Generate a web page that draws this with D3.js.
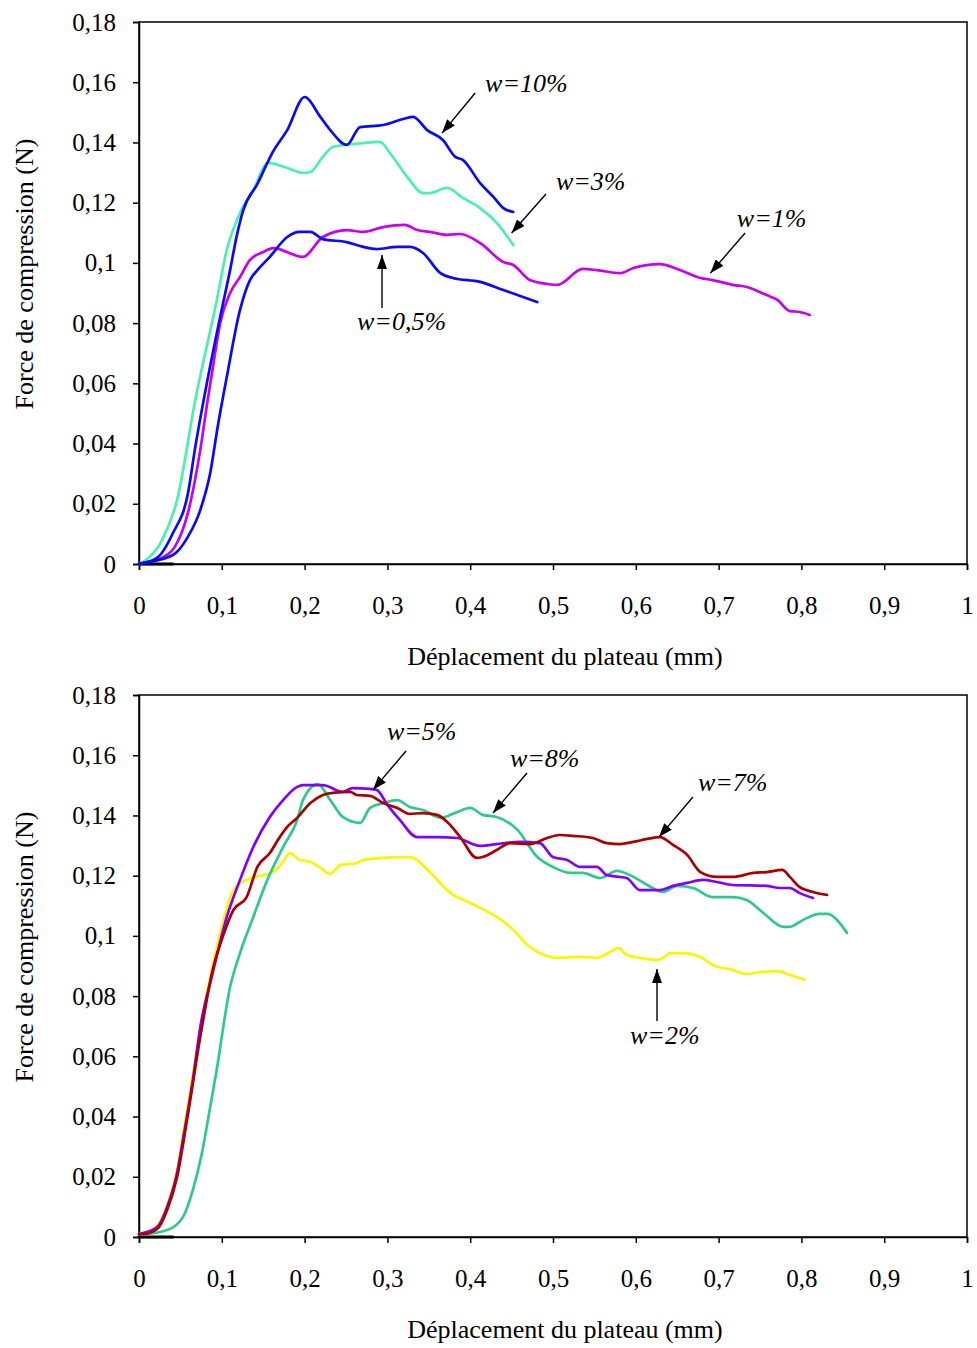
<!DOCTYPE html>
<html><head><meta charset="utf-8">
<script src="https://cdn.jsdelivr.net/npm/d3@7"></script>
<style>
body{margin:0;background:#fff}
svg{display:block}
text{font-family:"Liberation Serif","Times New Roman",serif;fill:#000}
</style>
</head><body>
<svg id="chart" width="977" height="1348"></svg>
<script>
// ---------- axis data ----------
const xTicks = [0,0.1,0.2,0.3,0.4,0.5,0.6,0.7,0.8,0.9,1];
const xTickLabels = ["0","0,1","0,2","0,3","0,4","0,5","0,6","0,7","0,8","0,9","1"];
const yTicks = [0,0.02,0.04,0.06,0.08,0.1,0.12,0.14,0.16,0.18];
const yTickLabels = ["0","0,02","0,04","0,06","0,08","0,1","0,12","0,14","0,16","0,18"];
const xTitle = "Déplacement du plateau (mm)";
const yTitle = "Force de compression (N)";

// ---------- top chart series [displacement mm, force N] ----------
const w10 = [[0,0],[0.005,0.0003],[0.023,0.0023],[0.041,0.0103],[0.059,0.0233],[0.068,0.0389],[0.082,0.0601],[0.098,0.082],[0.110,0.0976],[0.118,0.1089],[0.126,0.1176],[0.143,0.1262],[0.155,0.1332],[0.161,0.1365],[0.179,0.1441],[0.200,0.1551],[0.219,0.1485],[0.231,0.1441],[0.251,0.1392],[0.267,0.1451],[0.295,0.1458],[0.319,0.1478],[0.331,0.1485],[0.348,0.1441],[0.367,0.1408],[0.382,0.1352],[0.391,0.1342],[0.412,0.1265],[0.428,0.1219],[0.440,0.1182],[0.452,0.1169]];
const w3 = [[0,0],[0.005,0.0007],[0.028,0.008],[0.046,0.0213],[0.068,0.0545],[0.094,0.0877],[0.106,0.1043],[0.122,0.1166],[0.138,0.1242],[0.156,0.1332],[0.179,0.1315],[0.198,0.1299],[0.207,0.1302],[0.222,0.1352],[0.234,0.1385],[0.271,0.1398],[0.291,0.1402],[0.303,0.1365],[0.324,0.1285],[0.343,0.1232],[0.351,0.1232],[0.372,0.1249],[0.391,0.1216],[0.412,0.1182],[0.432,0.1133],[0.452,0.1059]];
const w1 = [[0,0],[0.005,0.0003],[0.029,0.0023],[0.043,0.0056],[0.059,0.0169],[0.074,0.0379],[0.083,0.0545],[0.088,0.0631],[0.098,0.08],[0.110,0.09],[0.122,0.0953],[0.134,0.101],[0.150,0.1036],[0.162,0.1049],[0.198,0.102],[0.222,0.1086],[0.251,0.1109],[0.271,0.1103],[0.295,0.1119],[0.321,0.1126],[0.336,0.1109],[0.351,0.1103],[0.372,0.1093],[0.388,0.1096],[0.412,0.1066],[0.440,0.1003],[0.452,0.0993],[0.472,0.0943],[0.493,0.093],[0.505,0.0927],[0.536,0.098],[0.553,0.0976],[0.581,0.0966],[0.597,0.0983],[0.629,0.0996],[0.650,0.098],[0.678,0.095],[0.693,0.0943],[0.717,0.0927],[0.734,0.092],[0.758,0.0893],[0.771,0.0877],[0.786,0.084],[0.798,0.0837],[0.810,0.0827]];
const w05 = [[0,0],[0.005,0.0003],[0.041,0.003],[0.059,0.009],[0.074,0.0179],[0.086,0.0302],[0.095,0.0455],[0.106,0.0621],[0.122,0.0844],[0.134,0.0943],[0.143,0.0976],[0.158,0.102],[0.179,0.1086],[0.194,0.1103],[0.207,0.1103],[0.222,0.1079],[0.251,0.1069],[0.271,0.1053],[0.287,0.1046],[0.312,0.1053],[0.327,0.1053],[0.343,0.1033],[0.364,0.0966],[0.379,0.095],[0.412,0.0937],[0.440,0.091],[0.481,0.087]];
const baseTop = [[0,0],[0.041,0]];

// ---------- bottom chart series ----------
const w5 = [[0,0.001],[0.005,0.0013],[0.022,0.0033],[0.034,0.01],[0.046,0.0213],[0.053,0.0322],[0.065,0.0521],[0.074,0.0697],[0.089,0.0877],[0.106,0.1063],[0.122,0.1186],[0.138,0.1295],[0.158,0.1395],[0.174,0.1451],[0.191,0.1495],[0.198,0.1501],[0.222,0.1501],[0.246,0.1478],[0.258,0.1491],[0.279,0.1488],[0.287,0.1485],[0.300,0.1435],[0.315,0.1385],[0.336,0.1328],[0.360,0.1328],[0.384,0.1325],[0.412,0.1299],[0.432,0.1305],[0.460,0.1312],[0.484,0.1308],[0.500,0.1262],[0.517,0.1252],[0.533,0.1229],[0.553,0.1229],[0.565,0.1202],[0.589,0.1192],[0.605,0.1152],[0.629,0.1152],[0.645,0.1166],[0.662,0.1176],[0.681,0.1186],[0.698,0.1179],[0.717,0.1169],[0.758,0.1166],[0.774,0.1159],[0.786,0.1159],[0.798,0.1142],[0.814,0.1126]];
const w7 = [[0,0.001],[0.005,0.001],[0.022,0.0027],[0.034,0.009],[0.046,0.0199],[0.058,0.0389],[0.076,0.0697],[0.089,0.0887],[0.101,0.0996],[0.114,0.1086],[0.130,0.1129],[0.143,0.1229],[0.158,0.1275],[0.170,0.1328],[0.179,0.1362],[0.191,0.1392],[0.207,0.1441],[0.222,0.1468],[0.234,0.1475],[0.255,0.1478],[0.263,0.1468],[0.279,0.1465],[0.295,0.1441],[0.312,0.1425],[0.327,0.1405],[0.343,0.1408],[0.360,0.1402],[0.376,0.1368],[0.388,0.1328],[0.408,0.1259],[0.415,0.1262],[0.432,0.1285],[0.448,0.1308],[0.472,0.1305],[0.493,0.1325],[0.508,0.1335],[0.524,0.1332],[0.548,0.1325],[0.565,0.1308],[0.581,0.1305],[0.597,0.1312],[0.614,0.1322],[0.629,0.1328],[0.645,0.1302],[0.662,0.1269],[0.678,0.1212],[0.698,0.1196],[0.717,0.1196],[0.742,0.1209],[0.758,0.1212],[0.777,0.1219],[0.786,0.1196],[0.798,0.1162],[0.814,0.1146],[0.831,0.1136]];
const w8 = [[0,0.001],[0.005,0.001],[0.034,0.0023],[0.053,0.0066],[0.065,0.0156],[0.076,0.0279],[0.086,0.0432],[0.093,0.0541],[0.110,0.083],[0.122,0.0943],[0.138,0.1063],[0.155,0.1186],[0.174,0.1295],[0.191,0.1385],[0.198,0.1451],[0.216,0.1504],[0.231,0.1451],[0.246,0.1395],[0.267,0.1375],[0.279,0.1425],[0.295,0.1441],[0.312,0.1451],[0.327,0.1428],[0.343,0.1418],[0.364,0.1392],[0.384,0.1411],[0.400,0.1425],[0.415,0.1402],[0.432,0.1395],[0.457,0.1352],[0.481,0.1262],[0.500,0.1229],[0.521,0.1209],[0.536,0.1209],[0.557,0.1192],[0.577,0.1216],[0.597,0.1196],[0.614,0.1169],[0.633,0.1146],[0.650,0.1166],[0.669,0.1159],[0.693,0.1129],[0.717,0.1129],[0.734,0.1119],[0.754,0.1076],[0.778,0.103],[0.786,0.103],[0.802,0.1053],[0.822,0.1073],[0.832,0.1073],[0.843,0.1053],[0.855,0.101]];
const w2 = [[0,0.001],[0.005,0.0013],[0.022,0.0037],[0.034,0.0106],[0.046,0.0223],[0.053,0.0339],[0.065,0.0538],[0.082,0.081],[0.094,0.0963],[0.114,0.1152],[0.130,0.1186],[0.150,0.1202],[0.162,0.1212],[0.174,0.1246],[0.182,0.1275],[0.194,0.1252],[0.207,0.1246],[0.219,0.1226],[0.231,0.1206],[0.243,0.1235],[0.263,0.1242],[0.271,0.1252],[0.295,0.1259],[0.324,0.1262],[0.331,0.1259],[0.351,0.1212],[0.376,0.1143],[0.400,0.1109],[0.412,0.1093],[0.432,0.1063],[0.452,0.102],[0.469,0.097],[0.484,0.0943],[0.505,0.0927],[0.533,0.093],[0.553,0.0927],[0.569,0.0947],[0.579,0.096],[0.589,0.0937],[0.605,0.0927],[0.626,0.092],[0.633,0.0927],[0.641,0.0943],[0.657,0.0943],[0.678,0.093],[0.693,0.0903],[0.717,0.0887],[0.734,0.0873],[0.750,0.088],[0.771,0.0883],[0.786,0.087],[0.804,0.0854]];
const baseBottom = [[0,0],[0.041,0]];

// ---------- annotation labels: text, arrow tip, arrow tail, text position (data units) ----------
const topLabels = ["w=10%","w=3%","w=1%","w=0,5%"];
const topTips = [[0.366,0.1431],[0.450,0.1099],[0.690,0.0966],[0.2935,0.1026]];
const topTails = [[0.406,0.1564],[0.4915,0.1229],[0.732,0.1099],[0.2935,0.0850]];
const topTextPos = [[0.418,0.1568],[0.5036,0.1242],[0.722,0.1119],[0.2633,0.0777]];
const botLabels = ["w=5%","w=8%","w=7%","w=2%"];
const botTips = [[0.2826,0.1485],[0.4275,0.1408],[0.628,0.1328],[0.6256,0.0890]];
const botTails = [[0.3225,0.1614],[0.4686,0.1541],[0.669,0.1461],[0.6256,0.0717]];
const botTextPos = [[0.2995,0.1651],[0.448,0.1561],[0.675,0.1481],[0.593,0.0641]];

const svg = d3.select("#chart");
const defs = svg.append("defs");
defs.append("marker").attr("id","arrow").attr("viewBox","0 0 14 10")
  .attr("refX",14).attr("refY",5).attr("markerWidth",14).attr("markerHeight",10)
  .attr("markerUnits","userSpaceOnUse").attr("orient","auto")
  .append("path").attr("d","M0,0 L14,5 L0,10 Z").attr("fill","#000");

function drawChart(top, series, labels, tips, tails, textPos) {
  const left = 139, right = 967, plotTop = top, plotBottom = top + 542;
  const x = d3.scaleLinear().domain([0,1]).range([left,right]);
  const y = d3.scaleLinear().domain([0,0.18]).range([plotBottom,plotTop]);
  const g = svg.append("g");

  g.append("rect").attr("x",left).attr("y",plotTop).attr("width",right-left).attr("height",plotBottom-plotTop)
    .attr("fill","none").attr("stroke","#000").attr("stroke-width",1.5);

  const xa = g.append("g").attr("transform",`translate(0,${plotBottom})`)
    .call(d3.axisBottom(x).tickValues(xTicks).tickFormat((d,i)=>xTickLabels[i]).tickSize(6).tickPadding(26));
  xa.select(".domain").attr("stroke-width",1.5);
  xa.selectAll(".tick line").attr("stroke-width",1.5);
  xa.selectAll("text").attr("font-size",25).attr("font-family","Liberation Serif");

  const ya = g.append("g").attr("transform",`translate(${left},0)`)
    .call(d3.axisLeft(y).tickValues(yTicks).tickFormat((d,i)=>yTickLabels[i]).tickSize(6).tickPadding(17));
  ya.select(".domain").attr("stroke-width",1.5);
  ya.selectAll(".tick line").attr("stroke-width",1.5);
  ya.selectAll("text").attr("font-size",25).attr("font-family","Liberation Serif");

  g.append("text").attr("x",565).attr("y",plotBottom+101).attr("text-anchor","middle")
    .attr("font-size",26).text(xTitle);
  g.append("text").attr("transform",`translate(33,${(plotTop+plotBottom)/2-19}) rotate(-90)`)
    .attr("text-anchor","middle").attr("font-size",26).text(yTitle);

  const line = d3.line().curve(d3.curveMonotoneX).x(d=>x(d[0])).y(d=>y(d[1]));
  series.forEach(s=>{
    g.append("path").datum(s.data).attr("d",line).attr("fill","none")
      .attr("stroke",s.color).attr("stroke-width",s.width||2.7)
      .attr("stroke-linejoin","round").attr("stroke-linecap","round");
  });

  labels.forEach((t,i)=>{
    g.append("line").attr("x1",x(tails[i][0])).attr("y1",y(tails[i][1]))
      .attr("x2",x(tips[i][0])).attr("y2",y(tips[i][1]))
      .attr("stroke","#000").attr("stroke-width",1.4).attr("marker-end","url(#arrow)");
    g.append("text").attr("x",x(textPos[i][0])).attr("y",y(textPos[i][1]))
      .attr("font-size",26).attr("font-style","italic").text(t);
  });
}

drawChart(22, [
  {data: baseTop, color:"#000", width:3},
  {data: w3, color:"#4cf0ac"},
  {data: w1, color:"#c800f0"},
  {data: w05, color:"#0a0af5"},
  {data: w10, color:"#0a0af5"}
], topLabels, topTips, topTails, topTextPos);

drawChart(695, [
  {data: baseBottom, color:"#000", width:3},
  {data: w2, color:"#f7f700"},
  {data: w8, color:"#2ec98c"},
  {data: w5, color:"#8000ff"},
  {data: w7, color:"#a80000"}
], botLabels, botTips, botTails, botTextPos);
</script>
</body></html>
